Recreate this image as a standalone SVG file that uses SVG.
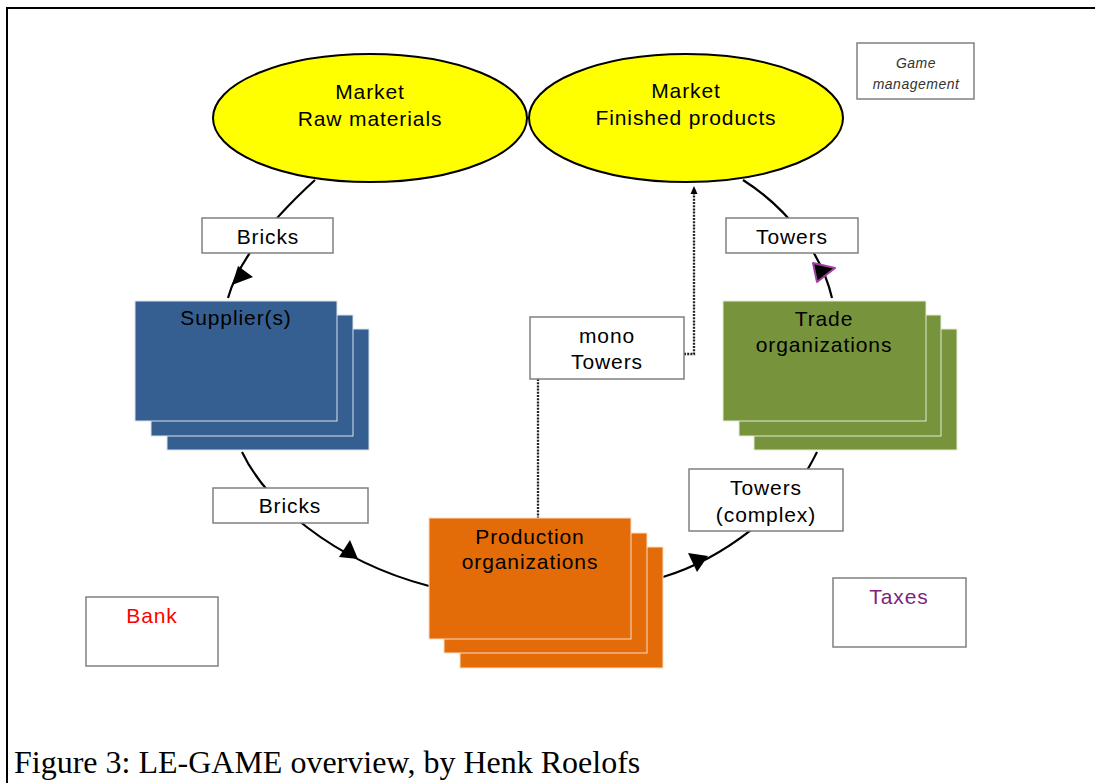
<svg xmlns="http://www.w3.org/2000/svg" width="1095" height="783" viewBox="0 0 1095 783">
<style>
.lbl{font-family:"Liberation Sans",Arial,sans-serif;font-size:21px;letter-spacing:0.9px;text-anchor:middle;fill:#000}
.gm{font-family:"Liberation Sans",Arial,sans-serif;font-size:14px;font-style:italic;letter-spacing:0.5px;text-anchor:middle;fill:#333}
.box{fill:#fff;stroke:#808080;stroke-width:1.5}
.mkt{fill:#ffff00;stroke:#000;stroke-width:2}
.conn{fill:none;stroke:#000;stroke-width:2.2}
.dot{fill:none;stroke:#222;stroke-width:2.3;stroke-dasharray:2 1.2}
.blue rect{fill:#365f91;stroke:#dbe3ee;stroke-width:1}
.orange rect{fill:#e36c09;stroke:#f8dcc4;stroke-width:1}
.green rect{fill:#77933c;stroke:#e4ebd6;stroke-width:1}
.ah{fill:#000}
</style>
<rect x="0" y="0" width="1095" height="783" fill="#fff"/>
<path d="M7,783 V8 H1095" fill="none" stroke="#000" stroke-width="2"/>

<g id="connectors">
<path class="conn" d="M315,180 C280,212 240,255 228,298"/>
<polygon class="ah" points="238,266 253,277 232,285"/>
<path class="conn" d="M242,452 C265,500 330,560 429,586"/>
<polygon class="ah" points="350,540 339,557 358,559"/>
<path class="conn" d="M663,577 C720,560 790,510 817,452"/>
<polygon class="ah" points="688,553 708,556 697,572"/>
<path class="conn" d="M832,298 C822,255 790,210 743,180"/>
<polygon points="813,263 835,268 817,282" fill="#000" stroke="#a040a0" stroke-width="2" stroke-linejoin="round"/>
<path class="dot" d="M684,354 H694 V192"/>
<polygon class="ah" points="694,186 690.5,194 697.5,194"/>
<path class="dot" d="M538,379 V519"/>
</g>

<g id="market-raw">
<ellipse class="mkt" cx="370" cy="118" rx="157" ry="64"/>
<text class="lbl" x="370" y="99">Market</text>
<text class="lbl" x="370" y="126">Raw materials</text>
</g>
<g id="market-finished">
<ellipse class="mkt" cx="686" cy="118" rx="157" ry="64"/>
<text class="lbl" x="686" y="98">Market</text>
<text class="lbl" x="686" y="125">Finished products</text>
</g>

<g id="game-management">
<rect class="box" x="857" y="43" width="117" height="56"/>
<text class="gm" x="916" y="68">Game</text>
<text class="gm" x="916" y="89">management</text>
</g>

<g id="label-bricks-top">
<rect class="box" x="202" y="218" width="131" height="35"/>
<text class="lbl" x="268" y="244">Bricks</text>
</g>
<g id="label-towers-top">
<rect class="box" x="726" y="218" width="132" height="35"/>
<text class="lbl" x="792" y="244">Towers</text>
</g>

<g id="suppliers" class="blue">
<rect x="167" y="329" width="202" height="121"/>
<rect x="151" y="315" width="202" height="121"/>
<rect x="135" y="301" width="202" height="120"/>
<text class="lbl" x="236" y="325">Supplier(s)</text>
</g>

<g id="trade" class="green">
<rect x="754" y="329" width="203" height="121"/>
<rect x="739" y="315" width="202" height="121"/>
<rect x="723" y="301" width="203" height="120"/>
<text class="lbl" x="824" y="326">Trade</text>
<text class="lbl" x="824" y="352">organizations</text>
</g>

<g id="label-mono-towers">
<rect class="box" x="530" y="317" width="154" height="62"/>
<text class="lbl" x="607" y="343">mono</text>
<text class="lbl" x="607" y="369">Towers</text>
</g>

<g id="label-bricks-bottom">
<rect class="box" x="213" y="488" width="155" height="35"/>
<text class="lbl" x="290" y="513">Bricks</text>
</g>

<g id="label-towers-complex">
<rect class="box" x="689" y="469" width="154" height="62"/>
<text class="lbl" x="766" y="495">Towers</text>
<text class="lbl" x="766" y="522">(complex)</text>
</g>

<g id="production" class="orange">
<rect x="460" y="547" width="203" height="121"/>
<rect x="444" y="533" width="203" height="120"/>
<rect x="429" y="518" width="202" height="121"/>
<text class="lbl" x="530" y="544">Production</text>
<text class="lbl" x="530" y="569">organizations</text>
</g>

<g id="bank">
<rect class="box" x="86" y="597" width="132" height="69"/>
<text class="lbl" x="152" y="623" style="fill:#ff0000">Bank</text>
</g>

<g id="taxes">
<rect class="box" x="833" y="578" width="133" height="69"/>
<text class="lbl" x="899" y="604" style="fill:#7f1f7f">Taxes</text>
</g>

<text x="14" y="773" font-family="'Liberation Serif','Times New Roman',serif" font-size="32" fill="#000">Figure 3: LE-GAME overview, by Henk Roelofs</text>
</svg>
